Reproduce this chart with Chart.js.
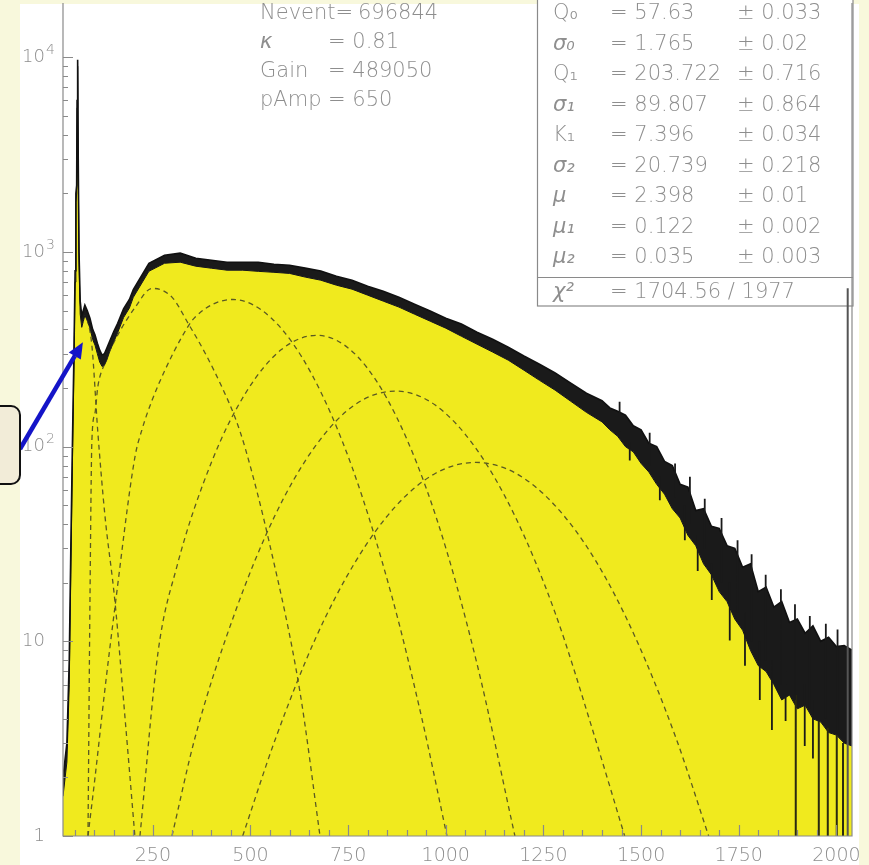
<!DOCTYPE html>
<html><head><meta charset="utf-8">
<script src="https://cdn.jsdelivr.net/npm/chart.js@4.4.0/dist/chart.umd.min.js"></script>
<style>html,body{margin:0;padding:0;background:#f8f8dc;}canvas{display:block;}</style>
</head><body>
<canvas id="c" width="869" height="865"></canvas>
<script>
// ---- histogram (charge spectrum), upper and lower edge of the fluctuation band ----
const binX = [20,30,36,40,44,48,51,53,55,56,57.5,59,61,64,68,72,76,82,89,96,102,108,114,120,126,132,140,150,160,175,190,
  200,240,280,320,360,400,440,480,520,560,600,640,680,720,760,800,840,880,920,960,1000,1040,1080,1120,1160,1200,1240,1280,
  1320,1360,1400,1420,1440,1460,1480,1500,1520,1540,1560,1580,1600,1620,1640,1660,1680,1700,1720,1740,1760,1780,
  1800,1820,1840,1860,1880,1900,1920,1940,1960,1980,2000,2020,2040];
const upperCounts = [2.0,3,8,30,100,300,800,2000,2200,6000,9700,3000,1000,560,470,500,533,500,457,400,374,340,313,295,300,320,350,390,430,510,570,
  640,875,962,986,929,907,886,886,886,865,855,826,798,751,716,667,629,586,539,497,457,426,387,356,324,292,265,239,
  212,188,172,158,152,145,128,122,104,100,84,80,64,62,47,48,39,38,31,30,24,25,
  18,19,15,16,12.5,13,11,12,10,10.5,9.4,9.5,9];
const lowerCounts = [1.6,2.4,6,22,80,250,700,1800,2000,5500,9000,2700,900,480,410,440,473,445,406,355,332,300,272,258,262,278,310,345,385,460,515,
  585,796,875,886,845,825,806,806,795,786,776,743,716,675,644,600,559,521,479,441,406,369,336,306,278,247,219,195,
  171,150,134,122,113,100,94,82,74,64,57,48,43,35,31,25,22,18,16,13,11.4,9,
  7.5,7,6,5,5.3,4.5,4.7,4,3.85,3.4,3.3,3.0,2.9];
// single-bin fluctuations sticking out of the band
const upSpikeX = [1445,1522,1587,1625,1663,1706,1747,1783,1819,1858,1894,1932,1973,2003];
const upSpikeFrom = [120,80,55,40,30,20,14,10,8,6,5,4.5,4,3.5];
const upSpikeTo = [170,118,82,70,54,43,33,28,22,18.5,15.5,13.5,12.3,11.5];
const downSpikeX = [1471,1548,1612,1645,1681,1727,1766,1804,1835,1870,1919,1940];
const downSpikeFrom = [105,70,50,35,25,20,14,10,8,7,6,5];
const downSpikeTo = [85,53,33,23,16.3,10.1,7.5,5.0,3.5,3.9,2.9,2.5];
// empty bins at the high end (drawn down to the axis)
const emptyBinX = [1896,1955,1978,2001,2017];
const emptyBinFrom = [5.3,3.9,3.6,3.3,3.0];
// marker line at the right end
const markerX = 2029;
const markerTop = 650;

// ---- fit components (dashed) ----
const bgX = [76,94,109,127,153,179,204];
const bgY = [500,330,120,45,16,4,1];
const pe1X = [84,89,94,102,109,127,153,205,248,299,340,384,427,460,486,549,626,678];
const pe1Y = [1,16,108,149,202,268,352,520,650,586,431,302,202,142,99,31.6,5.6,1];
const pe2X = [84,102,127,153,204,222,248,281,324,358,455,555,657,760,862,939,1003];
const pe2Y = [1,2,5.6,15,88,122,173,247,365,462,570,454,235,78.5,17,4,1];
const pe3X = [217,263,311,401,490,580,670,772,874,977,1079,1177];
const pe3Y = [1,8.7,24,84,192,316,373,293,142,42.4,7.8,1];
const pe4X = [299,358,460,562,665,767,872,972,1074,1177,1280,1382,1458];
const pe4Y = [1,3.2,14,44,100,164,193,164,100,44,14,3.2,1];
const pe5X = [480,565,667,770,872,974,1077,1179,1281,1384,1486,1589,1673];
const pe5Y = [1,3.2,10.4,25.9,49.5,73,83,73,49.5,25.9,10.4,3.2,1];

// ---- axes ----
const xTickValues = [250,500,750,1000,1250,1500,1750,2000];
const yDecades = [1,10,100,1000,10000];
const yDecadeLabels = [["1",""],["10",""],["10","2"],["10","3"],["10","4"]];

// ---- text boxes ----
const infoNames = ["Nevent=","\u03BA","Gain","pAmp"];
const infoValues = ["696844","= 0.81","= 489050","= 650"];
const statNames = ["Q\u2080","\u03C3\u2080","Q\u2081","\u03C3\u2081","K\u2081","\u03C3\u2082","\u03BC","\u03BC\u2081","\u03BC\u2082"];
const statValues = ["57.63","1.765","203.722","89.807","7.396","20.739","2.398","0.122","0.035"];
const statErrors = ["0.033","0.02","0.716","0.864","0.034","0.218","0.01","0.002","0.003"];
const chi2Text = "= 1704.56 / 1977";

const pts = (xs, ys) => xs.map((x, i) => ({x, y: ys[i]}));
const segs = (xs, from, to) => {
  const out = [];
  xs.forEach((x, i) => { out.push({x, y: from[i]}, {x, y: to[i]}, {x, y: null}); });
  return out;
};
const emptyBinBottom = emptyBinX.map(() => 1);

const TXT = '#8e8e8e';
const FONT = "'DejaVu Sans', 'Liberation Sans', sans-serif";
const dashed = (xs, ys) => ({type:'line', data: pts(xs, ys), borderColor:'#5b5a22', borderWidth:1.3,
  borderDash:[5,4], pointRadius:0, fill:false, cubicInterpolationMode:'monotone', order:8});
const isGreek = (s) => /[\u0370-\u03FF]/.test(s);

const decor = {
  id: 'decor',
  beforeDraw(chart) {
    const c = chart.ctx;
    c.save();
    c.fillStyle = '#f8f8dc'; c.fillRect(0, 0, 869, 865);
    c.fillStyle = '#ffffff'; c.fillRect(20, 4, 839, 861);
    c.restore();
  },
  beforeDatasetsDraw(chart) {
    const c = chart.ctx;
    c.save();
    // stats box
    c.fillStyle = '#ffffff'; c.fillRect(537, -2, 316, 308);
    c.strokeStyle = '#8a8a8a'; c.lineWidth = 1.2;
    c.strokeRect(537.5, -2, 315.5, 308);
    c.beginPath(); c.moveTo(537, 277.5); c.lineTo(853, 277.5); c.stroke();
    c.fillStyle = TXT; c.textBaseline = 'middle'; c.textAlign = 'left';
    const F = "200 21px " + FONT, FI = "italic 200 21px " + FONT;
    statNames.forEach((n, i) => {
      const y = 14 + 30.5 * i;
      c.font = isGreek(n) ? FI : F;
      c.fillText(n, 553, y);
      c.font = F;
      c.fillText('= ' + statValues[i], 610, y);
      c.fillText('\u00B1 ' + statErrors[i], 737, y);
    });
    c.font = FI; c.fillText('\u03C7\u00B2', 553, 293);
    c.font = F; c.fillText(chi2Text, 610, 293);
    // info text
    infoNames.forEach((n, i) => {
      const y = 14 + 29 * i;
      c.font = isGreek(n) ? FI : F;
      c.fillText(n, 260, y);
      c.font = F;
      c.fillText(infoValues[i], i === 0 ? 358 : 328, y);
    });
    c.restore();
  },
  afterDatasetsDraw(chart) {
    const c = chart.ctx, a = chart.chartArea;
    const xs = chart.scales.x, ys = chart.scales.y;
    c.save();
    c.strokeStyle = '#8a8a8a'; c.lineWidth = 1.2;
    c.beginPath();
    c.moveTo(a.left, a.top); c.lineTo(a.left, a.bottom); c.lineTo(a.right, a.bottom); c.lineTo(a.right, a.top);
    c.stroke();
    // y ticks (inside)
    c.beginPath();
    for (let d = 0; d < 5; d++) {
      for (let m = 1; m <= 9; m++) {
        const v = Math.pow(10, d) * m;
        if (v > ys.max) break;
        const py = Math.round(ys.getPixelForValue(v)) + 0.5;
        c.moveTo(a.left, py); c.lineTo(a.left + (m === 1 ? 10 : 5), py);
      }
    }
    // x ticks
    for (let v = 50; v <= 2040; v += 50) {
      if (v < xs.min) continue;
      const px = Math.round(xs.getPixelForValue(v)) + 0.5;
      c.moveTo(px, a.bottom); c.lineTo(px, a.bottom - (v % 250 === 0 ? 11 : 6));
    }
    c.stroke();
    // y labels
    c.fillStyle = TXT; c.textBaseline = 'middle';
    yDecades.forEach((v, i) => {
      const py = ys.getPixelForValue(v);
      const [base, exp] = yDecadeLabels[i];
      c.font = "200 18px " + FONT; c.textAlign = 'right';
      c.fillText(base, 45, py);
      if (exp) {
        c.font = "200 14px " + FONT; c.textAlign = 'left';
        c.fillText(exp, 46, py - 7);
      }
    });
    // annotation box + arrow
    const tipX = xs.getPixelForValue(71), tipY = ys.getPixelForValue(344);
    const sx = 20, sy = 449;
    const ang = Math.atan2(tipY - sy, tipX - sx);
    const L = 16, W = 7;
    const bx = tipX - L * Math.cos(ang), by = tipY - L * Math.sin(ang);
    c.strokeStyle = '#1414c8'; c.lineWidth = 4.5; c.lineCap = 'butt';
    c.beginPath(); c.moveTo(sx, sy); c.lineTo(bx, by); c.stroke();
    c.fillStyle = '#1414c8';
    c.beginPath();
    c.moveTo(tipX, tipY);
    c.lineTo(bx + W * Math.sin(ang), by - W * Math.cos(ang));
    c.lineTo(bx - W * Math.sin(ang), by + W * Math.cos(ang));
    c.closePath(); c.fill();
    c.fillStyle = '#f2ecd8'; c.strokeStyle = '#111'; c.lineWidth = 2;
    c.beginPath();
    c.roundRect(-12, 406, 32, 78, 9);
    c.fill(); c.stroke();
    c.restore();
  }
};

new Chart(document.getElementById('c'), {
  data: {
    datasets: [
      {type:'line', data: pts(binX, lowerCounts), borderColor:'#111', borderWidth:1, backgroundColor:'#f0ea1e',
        fill:'start', pointRadius:0, tension:0, order:10},
      {type:'line', data: pts(binX, upperCounts), borderColor:'#111', borderWidth:1.6, backgroundColor:'#1a1a1a',
        fill:'-1', pointRadius:0, tension:0, order:5},
      dashed(bgX, bgY), dashed(pe1X, pe1Y), dashed(pe2X, pe2Y), dashed(pe3X, pe3Y), dashed(pe4X, pe4Y), dashed(pe5X, pe5Y),
      {type:'line', data: segs(upSpikeX, upSpikeFrom, upSpikeTo), borderColor:'#1a1a1a', borderWidth:1.8, pointRadius:0, fill:false, spanGaps:false, order:4},
      {type:'line', data: segs(downSpikeX, downSpikeFrom, downSpikeTo), borderColor:'#1a1a1a', borderWidth:1.8, pointRadius:0, fill:false, spanGaps:false, order:4},
      {type:'line', data: segs(emptyBinX, emptyBinFrom, emptyBinBottom), borderColor:'#2a2a10', borderWidth:2, pointRadius:0, fill:false, spanGaps:false, order:4},
      {type:'line', data: [{x:markerX, y:markerTop},{x:markerX, y:1}], borderColor:'#555', borderWidth:2, pointRadius:0, fill:false, order:3}
    ]
  },
  options: {
    responsive:false, animation:false, devicePixelRatio:1,
    layout:{padding:{left:0, right:17, top:3, bottom:0}},
    plugins:{legend:{display:false}, tooltip:{enabled:false}},
    scales:{
      x:{type:'linear', min:20, max:2040, grid:{display:false}, border:{display:false},
        ticks:{color:TXT, font:{family:FONT, size:19, weight:200}, padding:1, maxRotation:0, autoSkip:false,
          callback:(v)=>String(v)},
        afterBuildTicks:(s)=>{ s.ticks = xTickValues.map(v=>({value:v})); },
        afterFit:(s)=>{ s.height = 29; }},
      y:{type:'logarithmic', min:1, max:19000, grid:{display:false}, border:{display:false},
        ticks:{display:false},
        afterFit:(s)=>{ s.width = 63; }}
    }
  },
  plugins:[decor]
});
</script>
</body></html>
